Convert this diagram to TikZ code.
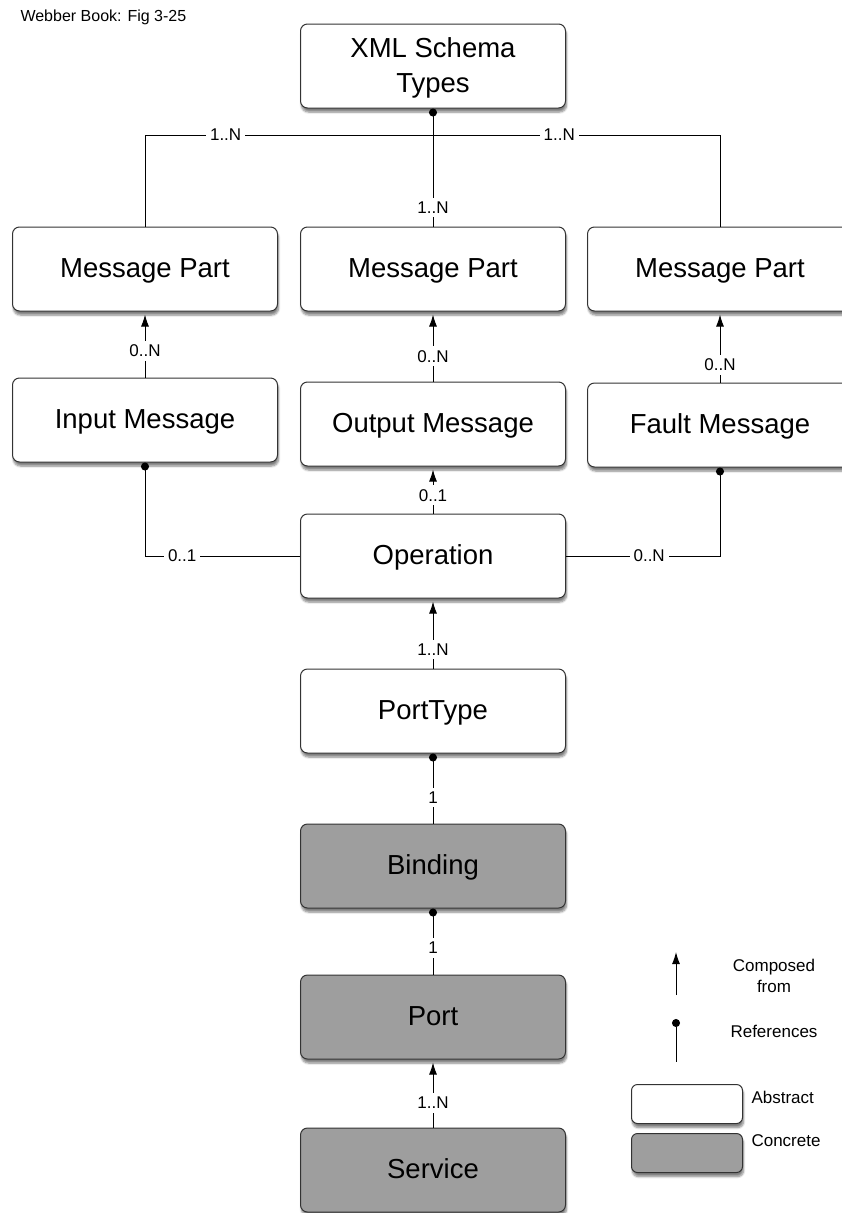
\documentclass[tikz,border=0pt]{standalone}
\usepackage{fontspec}
\setmainfont{Liberation Sans}
\usetikzlibrary{arrows.meta,shadows.blur}
\definecolor{concretegray}{RGB}{158,158,158}
\tikzset{
  entity/.style={draw=black!80, line width=1pt, rounded corners=7pt, fill=white,
    minimum width=265pt, minimum height=84pt, align=center,
    font=\fontsize{27.5}{35}\selectfont, text depth=2pt,
    blur shadow={shadow xshift=1pt, shadow yshift=-4pt, shadow blur steps=6, shadow opacity=50}},
  concrete/.style={entity, fill=concretegray},
  legendbox/.style={minimum width=111pt, minimum height=39pt, rounded corners=6pt},
  mult/.style={fill=white, inner sep=4pt, font=\fontsize{17}{20}\selectfont},
  legendtext/.style={align=center, font=\fontsize{17}{21}\selectfont},
  composed/.style={-{Latex[length=12pt,width=8pt]}, line width=1pt, shorten >=3pt},
  refers/.style={{Circle[length=8pt]}-, line width=1pt}
}
\begin{document}
\begin{tikzpicture}[x=1pt,y=-1pt]
\useasboundingbox (0,0) rectangle (842,1213);

\node[anchor=west, font=\fontsize{16}{19}\selectfont] (title) at (17,17) {Webber Book: Fig 3-25};

% abstract part
\node[entity] (xml) at (433,66) {XML Schema\\Types};
\node[entity] (mp1) at (145,269) {Message Part};
\node[entity] (mp2) at (433,269) {Message Part};
\node[entity] (mp3) at (720,269) {Message Part};
\node[entity] (im) at (145,420) {Input Message};
\node[entity] (om) at (433,424) {Output Message};
\node[entity] (fm) at (720,425) {Fault Message};
\node[entity] (op) at (433,556) {Operation};
\node[entity] (pt) at (433,711) {PortType};

% concrete part
\node[concrete] (bd) at (433,866) {Binding};
\node[concrete] (pr) at (433,1017) {Port};
\node[concrete] (sv) at (433,1170) {Service};

\coordinate (bus) at (433,135);
\draw[refers] (xml.south) -- node[mult,pos=.84] {1..N} (mp2.north);
\draw[line width=1pt] (mp1.north) |- node[mult,pos=.64] {1..N} (bus);
\draw[line width=1pt] (mp3.north) |- node[mult,pos=.78] {1..N} (bus);

\draw[composed] (im.north) -- node[mult,pos=.40] {0..N} (mp1.south);
\draw[composed] (om.north) -- node[mult,pos=.36] {0..N} (mp2.south);
\draw[composed] (fm.north) -- node[mult,pos=.25] {0..N} (mp3.south);

\draw[refers] (im.south) |- node[mult,pos=.62] {0..1} (op.west);
\draw[refers] (fm.south) |- node[mult,pos=.73] {0..N} (op.east);
\draw[composed] (op.north) -- node[mult,pos=.39] {0..1} (om.south);

\draw[composed] (pt.north) -- node[mult,pos=.27] {1..N} (op.south);
\draw[refers] (pt.south) -- node[mult,pos=.63] {1} (bd.north);
\draw[refers] (bd.south) -- node[mult,pos=.60] {1} (pr.north);
\draw[composed] (sv.north) -- node[mult,pos=.36] {1..N} (pr.south);

% legend
\coordinate (cmpfoot) at (676,995);
\coordinate (cmphead) at (676,952);
\draw[composed, shorten >=0pt] (cmpfoot) -- (cmphead);
\node[legendtext] (cmptext) at (774,976) {Composed\\from};
\coordinate (refhead) at (676,1019);
\coordinate (reffoot) at (676,1062);
\draw[refers] (refhead) -- (reffoot);
\node[legendtext] (reftext) at (774,1031) {References};
\node[entity, legendbox] (absbox) at (687,1104) {};
\node[concrete, legendbox] (conbox) at (687,1153) {};
\node[legendtext, anchor=west] (abstext) at (748,1097) {Abstract};
\node[legendtext, anchor=west] (context) at (748,1141) {Concrete};
\end{tikzpicture}
\end{document}
